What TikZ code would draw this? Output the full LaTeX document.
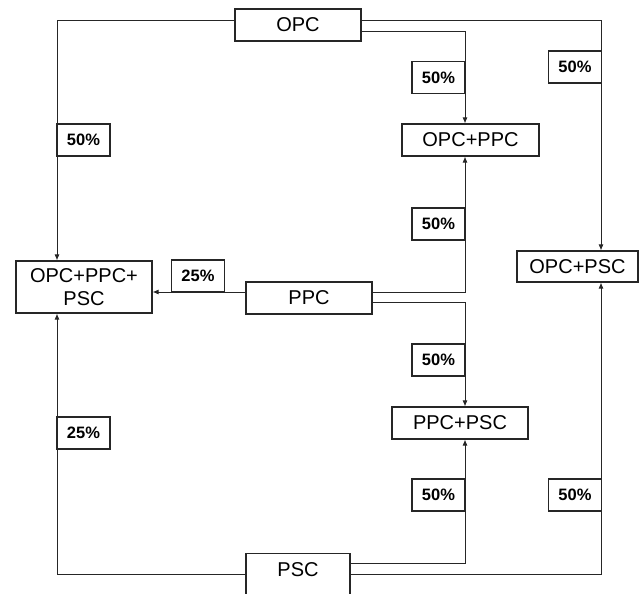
\documentclass[tikz,border=0pt]{standalone}
\usepackage{fontspec}
\setmainfont{Liberation Sans}
\usetikzlibrary{arrows.meta,calc}
\begin{document}
\begin{tikzpicture}[x=1pt,y=-1pt,
  box/.style={draw=black!85,line width=1.2pt,inner sep=0pt,font=\fontsize{20}{23}\selectfont,align=center},
  pct/.style={draw=black!85,line width=1.2pt,inner sep=0pt,minimum width=53pt,minimum height=32pt,font=\fontsize{16.5}{18}\selectfont\bfseries},
  conn/.style={draw=black!85,line width=0.8pt,-{Latex[length=6pt,width=5pt]}}]
\useasboundingbox (0,0) rectangle (643,594);
\clip (0,0) rectangle (643,594);
\coordinate (lx) at (57,0);
\coordinate (mx) at (465,0);
\coordinate (rx) at (601,0);
% boxes
\node[box,minimum width=126pt,minimum height=32pt] (OPC) at (298,25) {OPC};
\node[box,minimum width=137pt,minimum height=32pt] (OPCPPC) at (470.5,140) {OPC+PPC};
\node[box,minimum width=121pt,minimum height=31pt] (OPCPSC) at (577.5,266.5) {OPC+PSC};
\node[box,minimum width=136pt,minimum height=52pt] (OPCPPCPSC) at (84,287) {OPC+PPC+\\PSC};
\node[box,minimum width=126pt,minimum height=32pt] (PPC) at (309,298) {PPC};
\node[box,minimum width=136pt,minimum height=32pt] (PPCPSC) at (460,423) {PPC+PSC};
\node[box,minimum width=104pt,minimum height=50pt,anchor=north] (PSC) at (298,553) {};
\node[font=\fontsize{20}{23}\selectfont,inner sep=0pt] (PSCtext) at (298,570) {PSC};
% connectors
\draw[conn] ([yshift=5pt]OPC.west) -| (OPCPPCPSC.north -| lx);
\draw[conn] ([yshift=5pt]OPC.east) -| (OPCPSC.north -| rx);
\draw[conn] ([yshift=-6pt]OPC.east) -| (OPCPPC.north -| mx);
\draw[conn] ([yshift=6pt]PPC.west) -- ([yshift=6pt]PPC.west -| OPCPPCPSC.east);
\draw[conn] ([yshift=6pt]PPC.east) -| (OPCPPC.south -| mx);
\draw[conn] ([yshift=-4pt]PPC.east) -| (PPCPSC.north -| mx);
\draw[conn] ([yshift=-21pt]PSC.north west) -| (OPCPPCPSC.south -| lx);
\draw[conn] ([yshift=-10pt]PSC.north east) -| (PPCPSC.south -| mx);
\draw[conn] ([yshift=-21pt]PSC.north east) -| (OPCPSC.south -| rx);
% percentages
\node[pct,fill=white] (p1) at (83.5,140) {50\%};
\node[pct,fill=white] (p2) at (438.5,77.5) {50\%};
\node[pct,fill=white] (p3) at (575,67) {50\%};
\node[pct,fill=white] (p4) at (198,276) {25\%};
\node[pct,fill=white] (p5) at (438.5,224) {50\%};
\node[pct,fill=white] (p6) at (438.5,360) {50\%};
\node[pct,fill=white] (p7) at (83.5,433) {25\%};
\node[pct,fill=white] (p8) at (438.5,495) {50\%};
\node[pct,fill=white] (p9) at (575,495) {50\%};
\end{tikzpicture}
\end{document}
